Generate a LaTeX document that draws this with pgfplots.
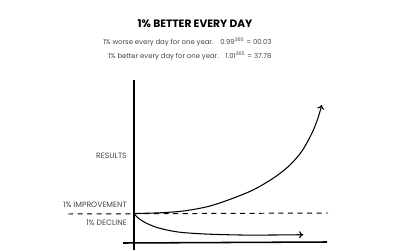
\documentclass[border=0pt]{standalone}
\usepackage{pgfplots}
\pgfplotsset{compat=1.18}
\usepackage{fontspec}
\setmainfont{Poppins}
\usetikzlibrary{arrows.meta}
\definecolor{txt}{HTML}{444444}
\begin{document}
\begin{tikzpicture}
\begin{axis}[
  scale only axis, width=10cm, height=6.25cm,
  xmin=0, xmax=400, ymin=0, ymax=250, y dir=reverse,
  hide axis, clip=false,
]
\path (rel axis cs:0,0) (rel axis cs:1,1);
% axes
\addplot[black, line width=1.1pt] coordinates {(134,80) (134,250)};
\addplot[black, line width=1.1pt] coordinates {(123,243) (327,242)};
% baseline dashed
\addplot[black, line width=0.7pt, dash pattern=on 3.6pt off 3.2pt] coordinates {(68,214) (328,213)};
% growth
\addplot[black, line width=0.75pt, smooth, tension=0.5, -{To[length=3pt,width=5pt]}] coordinates {
(134,213.5) (160,212.8) (185,210.8) (210,206) (235,197.5) (255,189) (275,177) (290,165) (302,151) (312,133) (318,118) (321.7,105)};
% decline
\addplot[black, line width=0.75pt, smooth, tension=0.5, -{To[length=3pt,width=5pt]}] coordinates {
(134,213.5) (137,217) (145,222.5) (158,227.8) (178,232) (205,234) (240,235) (273,235) (303.3,234.7)};
% labels
\node[anchor=east, text=txt, font=\fontsize{5.5}{6}\selectfont, inner sep=0pt] at (axis cs:127,156) {RESULTS};
\node[anchor=east, text=txt, font=\fontsize{5.5}{6}\selectfont, inner sep=0pt] at (axis cs:127,205) {1\% IMPROVEMENT};
\node[anchor=east, text=txt, font=\fontsize{5.5}{6}\selectfont, inner sep=0pt] at (axis cs:127,223) {1\% DECLINE};
% title
\node[text=black, font=\fontsize{7.6}{8}\selectfont\bfseries, inner sep=0pt] at (axis cs:195,24) {1\% BETTER EVERY DAY};
\node[text=txt, font=\fontsize{4.9}{5}\selectfont, inner sep=0pt, anchor=west] at (axis cs:103,42) {1\% worse every day for one year.\quad 0.99\textsuperscript{365} = 00.03};
\node[text=txt, font=\fontsize{4.9}{5}\selectfont, inner sep=0pt, anchor=west] at (axis cs:108,56) {1\% better every day for one year.\quad 1.01\textsuperscript{365} = 37.78};
\end{axis}
\end{tikzpicture}
\end{document}
